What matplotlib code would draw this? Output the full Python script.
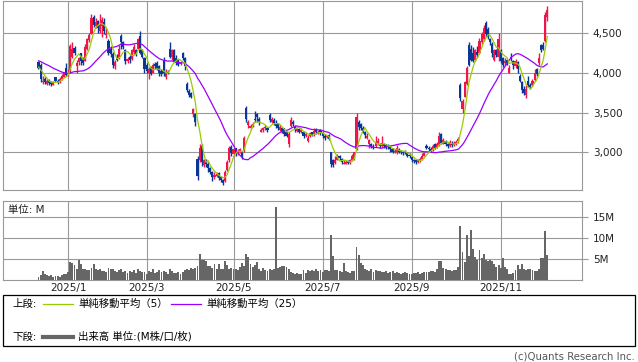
import numpy as np
import pandas as pd
import matplotlib
matplotlib.use('Agg')
import matplotlib.pyplot as plt
from matplotlib.lines import Line2D
from matplotlib.patches import Rectangle

plt.rcParams['font.family'] = ['DejaVu Sans', 'Noto Sans CJK JP']

# daily candles, mid Dec 2024 -> early Dec 2025 (one value per trading day)
opens = [
    4130, 4100, 3880, 3920, 3860, 3900, 3880, 3850, 3940, 3900, 3880, 3920, 3950, 4060,
    3980, 4010, 4200, 4310, 4080, 4130, 4240, 4180, 4150, 4300, 4410, 4490, 4700, 4580,
    4650, 4520, 4580, 4640, 4470, 4400, 4300, 4230, 4080, 4200, 4180, 4460, 4380, 4280,
    4140, 4200, 4170, 4260, 4280, 4300, 4460, 4280, 4180, 4100, 3990, 4060, 4000, 4110,
    4120, 4080, 4020, 4150, 3940, 4010, 4300, 4200, 4280, 4180, 4160, 4110, 4240, 4180,
    3860, 3770, 3740, 3480, 3480, 2920, 2900, 3080, 2840, 2900, 2860, 2800, 2760, 2690,
    2700, 2740, 2690, 2660, 2640, 2780, 2900, 3070, 2980, 3050, 2990, 3000, 3000, 3020,
    3560, 3340, 3300, 3340, 3420, 3480, 3420, 3260, 3280, 3300, 3310, 3470, 3380, 3400,
    3360, 3350, 3280, 3310, 3300, 3250, 3100, 3330, 3380, 3320, 3270, 3290, 3250, 3260,
    3200, 3140, 3200, 3250, 3220, 3290, 3240, 3280, 3240, 3210, 3190, 3220, 3000, 2900,
    2870, 2910, 2950, 2920, 2860, 2860, 2890, 2870, 2900, 2920, 3040, 3380, 3350, 3310,
    3260, 3180, 3110, 3110, 3070, 3080, 3100, 3110, 3080, 3110, 3100, 3090, 3070, 3040,
    3000, 3000, 3040, 3020, 3010, 3020, 3000, 2970, 2940, 2910, 2900, 2880, 2890, 2920,
    2960, 3080, 3060, 3040, 3030, 3100, 3060, 3090, 3230, 3110, 3140, 3100, 3080, 3120,
    3090, 3100, 3140, 3840, 3540, 3700, 3860, 4340, 4300, 4250, 4160, 4260, 4240, 4380,
    4420, 4620, 4550, 4420, 4360, 4160, 4280, 4200, 4280, 4180, 4120, 4160, 4000, 4200,
    4150, 4080, 4130, 3960, 3880, 3800, 3720, 3900, 3850, 3840, 3910, 4040, 4120, 4340,
    4350, 4400, 4700,
]
highs = [
    4150, 4120, 3960, 3940, 3920, 3920, 3900, 3900, 3950, 3920, 3940, 3980, 4010, 4120,
    4040, 4360, 4380, 4330, 4160, 4200, 4250, 4200, 4360, 4440, 4500, 4740, 4720, 4680,
    4660, 4740, 4700, 4680, 4560, 4420, 4330, 4260, 4160, 4230, 4340, 4480, 4400, 4300,
    4200, 4220, 4300, 4360, 4300, 4440, 4520, 4300, 4190, 4120, 4070, 4080, 4120, 4130,
    4140, 4100, 4050, 4200, 4040, 4030, 4380, 4300, 4300, 4220, 4170, 4150, 4260, 4200,
    3880, 3790, 3760, 3560, 3500, 2960, 3100, 3110, 2920, 2920, 2880, 2820, 2770, 2760,
    2760, 2750, 2700, 2670, 2780, 2900, 3080, 3090, 3060, 3060, 3040, 3060, 3010, 3200,
    3580, 3400, 3360, 3380, 3520, 3500, 3440, 3300, 3320, 3340, 3320, 3490, 3440, 3430,
    3400, 3370, 3340, 3320, 3310, 3270, 3250, 3440, 3400, 3340, 3310, 3300, 3300, 3270,
    3250, 3220, 3260, 3260, 3300, 3300, 3280, 3290, 3250, 3230, 3220, 3230, 3010, 2920,
    2960, 2980, 2970, 2930, 2900, 2900, 2900, 2920, 2980, 3010, 3500, 3400, 3370, 3330,
    3270, 3240, 3170, 3120, 3100, 3200, 3180, 3120, 3200, 3120, 3110, 3110, 3080, 3060,
    3040, 3090, 3050, 3030, 3020, 3030, 3010, 2990, 2950, 2920, 2910, 2920, 2940, 2990,
    3000, 3100, 3080, 3070, 3110, 3120, 3130, 3250, 3240, 3180, 3160, 3120, 3160, 3140,
    3140, 3150, 3190, 3870, 3670, 3900, 4080, 4380, 4340, 4320, 4300, 4330, 4430, 4510,
    4600, 4650, 4570, 4440, 4380, 4300, 4300, 4500, 4300, 4200, 4180, 4170, 4100, 4240,
    4160, 4170, 4140, 3980, 3900, 3830, 3840, 3960, 3870, 3920, 4050, 4060, 4240, 4360,
    4380, 4760, 4830,
]
lows = [
    4040, 3880, 3860, 3860, 3840, 3850, 3830, 3840, 3880, 3860, 3870, 3910, 3940, 3960,
    3960, 4000, 4180, 4220, 3990, 4100, 4090, 4100, 4140, 4280, 4390, 4480, 4570, 4560,
    4500, 4500, 4450, 4480, 4440, 4220, 4200, 4060, 4050, 4140, 4170, 4300, 4300, 4110,
    4120, 4120, 4160, 4230, 4210, 4290, 4230, 4180, 4000, 4000, 3920, 3970, 3990, 4040,
    4030, 3960, 3960, 3960, 3920, 3980, 4180, 4160, 4130, 4100, 4080, 4090, 4160, 4030,
    3760, 3700, 3680, 3450, 3330, 2650, 2880, 2830, 2820, 2820, 2760, 2730, 2640, 2670,
    2690, 2660, 2630, 2590, 2630, 2770, 2880, 2960, 2960, 2960, 2970, 2990, 2920, 3000,
    3380, 3300, 3290, 3320, 3380, 3380, 3340, 3250, 3260, 3280, 3260, 3380, 3370, 3340,
    3310, 3280, 3270, 3240, 3210, 3190, 3070, 3320, 3330, 3260, 3260, 3240, 3240, 3180,
    3190, 3130, 3190, 3200, 3210, 3230, 3230, 3220, 3180, 3160, 3180, 3160, 2820, 2820,
    2860, 2900, 2910, 2850, 2850, 2850, 2850, 2860, 2890, 2910, 3030, 3280, 3280, 3240,
    3180, 3170, 3060, 3050, 3040, 3070, 3090, 3050, 3070, 3050, 3040, 3040, 3000, 2990,
    2990, 2980, 2990, 2980, 2970, 2980, 2940, 2930, 2880, 2870, 2860, 2870, 2880, 2910,
    2950, 3040, 3020, 3000, 3020, 3040, 3050, 3080, 3100, 3100, 3080, 3060, 3070, 3070,
    3080, 3090, 3120, 3640, 3500, 3690, 3840, 4080, 4140, 4130, 4150, 4200, 4230, 4360,
    4400, 4450, 4420, 4350, 4200, 4150, 4200, 4150, 4120, 4070, 4100, 4090, 3990, 4150,
    4050, 4060, 4000, 3880, 3740, 3720, 3680, 3820, 3790, 3830, 3900, 3960, 4100, 4260,
    4280, 4380, 4650,
]
closes = [
    4060, 3920, 3900, 3880, 3900, 3870, 3860, 3880, 3900, 3880, 3920, 3960, 3990, 3970,
    4000, 4330, 4300, 4250, 4120, 4180, 4150, 4120, 4320, 4420, 4470, 4680, 4600, 4640,
    4560, 4600, 4660, 4520, 4480, 4250, 4230, 4100, 4130, 4160, 4300, 4380, 4320, 4150,
    4170, 4160, 4280, 4320, 4230, 4420, 4250, 4200, 4050, 4020, 4040, 3980, 4090, 4080,
    4050, 4000, 3980, 3990, 4000, 3990, 4200, 4280, 4150, 4120, 4100, 4130, 4180, 4080,
    3780, 3720, 3700, 3540, 3380, 2700, 3060, 2880, 2900, 2850, 2800, 2760, 2690, 2720,
    2730, 2680, 2660, 2620, 2760, 2880, 3050, 2990, 3040, 2980, 3020, 3040, 2950, 3180,
    3420, 3380, 3330, 3360, 3400, 3440, 3380, 3280, 3300, 3320, 3280, 3400, 3420, 3370,
    3330, 3300, 3320, 3260, 3230, 3200, 3230, 3400, 3350, 3280, 3290, 3260, 3280, 3200,
    3230, 3180, 3240, 3220, 3270, 3250, 3260, 3240, 3200, 3180, 3200, 3170, 2850, 2840,
    2900, 2940, 2930, 2880, 2870, 2880, 2870, 2900, 2960, 3000, 3450, 3320, 3300, 3260,
    3220, 3200, 3150, 3080, 3060, 3120, 3140, 3080, 3120, 3080, 3060, 3070, 3040, 3000,
    3020, 3060, 3010, 3000, 2990, 3000, 2960, 2950, 2900, 2890, 2880, 2900, 2920, 2960,
    2990, 3060, 3040, 3020, 3080, 3060, 3100, 3200, 3120, 3150, 3100, 3080, 3130, 3090,
    3120, 3130, 3170, 3680, 3650, 3880, 4060, 4100, 4160, 4150, 4280, 4220, 4400, 4480,
    4560, 4480, 4450, 4380, 4250, 4280, 4220, 4420, 4150, 4100, 4150, 4120, 4060, 4180,
    4100, 4150, 4050, 3900, 3780, 3750, 3800, 3850, 3820, 3900, 4000, 3980, 4180, 4280,
    4300, 4720, 4780,
]
# closes before the first shown day, only used to start the moving averages
pre_closes = [4180, 4230, 4250, 4200, 4190, 4260, 4240, 4210, 4180, 4220, 4250, 4190,
              4150, 4120, 4080, 4100, 4060, 4110, 4090, 4060, 4090, 4060, 4100, 4040]
# volume in millions of shares
volumes = [
    0.9, 1.2, 2.1, 1.6, 1.3, 1.1, 1.2, 0.9, 1.0, 1.1, 0.9, 1.3, 1.4, 1.6,
    2.0, 4.4, 4.2, 3.6, 2.6, 4.8, 3.9, 2.8, 2.6, 2.5, 2.4, 2.9, 3.8, 2.8,
    2.4, 2.6, 2.1, 2.3, 2.0, 2.9, 2.7, 2.8, 2.2, 2.0, 2.4, 2.6, 1.9, 2.1,
    1.7, 2.3, 2.0, 2.4, 1.8, 2.8, 2.2, 1.9, 2.0, 1.6, 2.1, 1.9, 2.6, 1.8,
    2.0, 2.4, 1.9, 2.2, 2.0, 1.6, 2.6, 2.2, 1.8, 1.7, 2.0, 1.5, 1.9, 2.5,
    2.6, 2.4, 2.9, 2.6, 3.0, 3.3, 6.2, 4.8, 4.8, 4.6, 3.4, 3.4, 3.0, 3.8,
    2.8, 3.8, 2.6, 2.8, 4.6, 3.6, 2.8, 3.0, 2.6, 2.8, 2.4, 3.2, 4.2, 3.5,
    6.2, 5.5, 3.8, 3.2, 3.6, 4.4, 2.6, 2.2, 2.9, 2.4, 2.3, 2.6, 2.5, 2.8,
    17.5, 3.0, 3.2, 3.4, 3.5, 3.2, 2.8, 2.0, 1.8, 1.6, 1.7, 1.5, 1.6, 2.4,
    1.7, 2.4, 2.2, 2.5, 2.2, 2.6, 2.3, 2.4, 2.0, 2.5, 2.4, 2.2, 10.7, 5.7,
    2.5, 2.4, 2.3, 2.0, 4.0, 2.1, 2.0, 1.8, 2.1, 2.3, 8.0, 6.0, 4.2, 3.6,
    2.8, 2.4, 2.2, 2.6, 2.0, 2.4, 2.1, 2.2, 1.9, 2.0, 2.2, 1.8, 1.9, 2.1,
    1.7, 1.9, 1.8, 1.6, 1.8, 1.9, 1.7, 1.6, 1.5, 1.8, 1.7, 1.9, 1.6, 1.8,
    2.0, 1.9, 2.0, 2.3, 2.1, 2.0, 2.8, 4.5, 4.5, 3.0, 2.6, 2.4, 2.5, 2.3,
    2.4, 2.5, 3.2, 12.9, 6.7, 4.4, 10.7, 5.8, 11.9, 7.5, 5.6, 4.9, 7.1, 5.3,
    6.3, 4.8, 4.6, 4.9, 4.7, 3.8, 3.2, 3.6, 3.0, 5.3, 3.2, 2.6, 1.6, 1.5,
    1.8, 2.4, 3.6, 2.8, 3.8, 2.6, 2.5, 2.7, 2.6, 2.4, 2.2, 2.3, 2.6, 5.3,
    5.2, 11.7, 6.0,
]

month_labels = ['2025/1', '2025/3', '2025/5', '2025/7', '2025/9', '2025/11']
month_idx = [14, 51, 92, 134, 176, 218]
price_ticks = [3000, 3500, 4000, 4500]
price_labels = ['3,000', '3,500', '4,000', '4,500']
vol_ticks = [5, 10, 15]
vol_labels = ['5M', '10M', '15M']

UP = '#f0144a'
DOWN = '#0a3796'
GRID = '#999999'
W, H = 638, 362


def fx(px):
    return px / W


def fy(py):
    return 1 - py / H


def style_axes(ax):
    for s in ax.spines.values():
        s.set_color(GRID)
        s.set_linewidth(0.8)
    ax.set_xticks(month_idx)
    ax.xaxis.grid(True, color=GRID, linewidth=0.8)
    ax.yaxis.grid(True, color=GRID, linewidth=0.8)
    ax.set_axisbelow(True)
    ax.yaxis.tick_right()
    ax.tick_params(axis='y', length=4.5, width=0.8, color=GRID, pad=3,
                   labelsize=7.5, labelcolor='#222222')
    ax.tick_params(axis='x', length=0, labelsize=7.5, labelcolor='#222222', pad=2)
    ax.set_xlim(-16.6, 256.5)


def main():
    n = len(closes)
    x = np.arange(n)
    o = np.array(opens)
    c = np.array(closes)
    hi = np.array(highs)
    lo = np.array(lows)

    allc = pd.Series(pre_closes + closes, dtype=float)
    ma5 = allc.rolling(5).mean().values[len(pre_closes):]
    ma25 = allc.rolling(25).mean().values[len(pre_closes):]

    fig = plt.figure(figsize=(W / 100, H / 100), dpi=100)
    fig.patch.set_facecolor('white')

    # price panel
    ax = fig.add_axes([fx(3.3), fy(190.3), fx(579), (190.3 - 0.5) / H])
    style_axes(ax)
    ax.set_ylim(2525, 4904)
    ax.set_yticks(price_ticks)
    ax.set_yticklabels(price_labels)
    ax.set_xticklabels([])

    col = [UP if cc >= oo else DOWN for oo, cc in zip(o, c)]
    ax.vlines(x, lo, hi, colors=col, linewidth=1.0, zorder=2)
    body_lo = np.minimum(o, c)
    body_h = np.maximum(np.abs(c - o), 10)
    ax.bar(x, body_h, bottom=body_lo, width=1.0, color=col, linewidth=0, zorder=3)
    ax.plot(x, ma25, color='#9900ff', linewidth=0.9, zorder=4)
    ax.plot(x, ma5, color='#99cc00', linewidth=0.9, zorder=5)

    # volume panel
    axv = fig.add_axes([fx(3.3), fy(280.3), fx(579), (280.3 - 201) / H])
    style_axes(axv)
    axv.set_ylim(0, 18.88)
    axv.set_yticks(vol_ticks)
    axv.set_yticklabels(vol_labels)
    axv.set_xticklabels(month_labels)
    axv.bar(x, volumes, width=0.9, color='#666666', linewidth=0, zorder=3)
    axv.text(0.008, 0.885, '単位: M', transform=axv.transAxes, fontsize=7.5,
             va='center', ha='left', color='#222222')

    # legend box
    fig.add_artist(Rectangle((fx(3.3), fy(346)), fx(631.4), (346 - 295) / H,
                             transform=fig.transFigure, fill=False,
                             edgecolor='black', linewidth=0.9))
    y1, y2 = fy(303.5), fy(336.7)
    fig.text(fx(12), y1, '上段:', fontsize=7.5, va='center')
    fig.add_artist(Line2D([fx(43), fx(73)], [y1, y1], color='#99cc00', linewidth=0.9))
    fig.text(fx(78), y1, '単純移動平均（5）', fontsize=7.5, va='center')
    fig.add_artist(Line2D([fx(171), fx(201)], [y1, y1], color='#9900ff', linewidth=0.9))
    fig.text(fx(206), y1, '単純移動平均（25）', fontsize=7.5, va='center')
    fig.text(fx(12), y2, '下段:', fontsize=7.5, va='center')
    fig.add_artist(Line2D([fx(43), fx(73)], [y2, y2], color='#666666', linewidth=3))
    fig.text(fx(78), y2, '出来高 単位:(M株/口/枚)', fontsize=7.5, va='center')

    fig.text(fx(634.5), fy(356.5), '(c)Quants Research Inc.', fontsize=7.3,
             ha='right', va='center', color='#555555')

    fig.savefig('out.png', dpi=100)


if __name__ == '__main__':
    main()
